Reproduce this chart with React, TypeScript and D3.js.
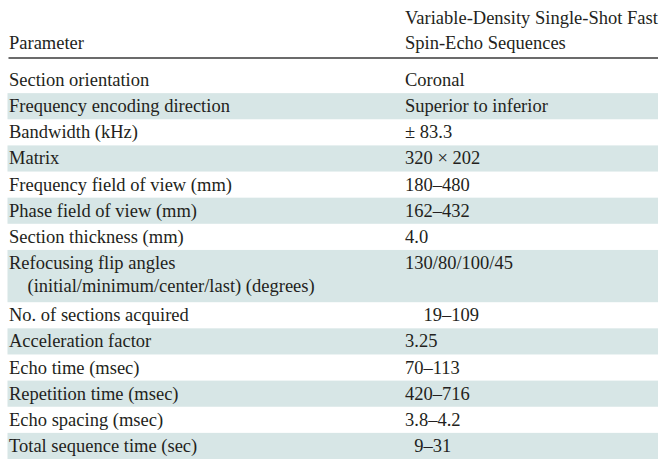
import React from "react";
import * as d3 from "d3";

const headerLeft = "Parameter";
const headerRight = ["Variable-Density Single-Shot Fast", "Spin-Echo Sequences"];

const parameters: string[][] = [
  ["Section orientation"],
  ["Frequency encoding direction"],
  ["Bandwidth (kHz)"],
  ["Matrix"],
  ["Frequency field of view (mm)"],
  ["Phase field of view (mm)"],
  ["Section thickness (mm)"],
  ["Refocusing flip angles", "\u2003(initial/minimum/center/last) (degrees)"],
  ["No. of sections acquired"],
  ["Acceleration factor"],
  ["Echo time (msec)"],
  ["Repetition time (msec)"],
  ["Echo spacing (msec)"],
  ["Total sequence time (sec)"],
];

const values: string[] = [
  "Coronal",
  "Superior to inferior",
  "\u00b1 83.3",
  "320 \u00d7 202",
  "180\u2013480",
  "162\u2013432",
  "4.0",
  "130/80/100/45",
  "\u2007\u200719\u2013109",
  "3.25",
  "70\u2013113",
  "420\u2013716",
  "3.8\u20134.2",
  "\u20079\u201331",
];

const W = 668;
const H = 475;

export default function App() {
  const units = parameters.map((p) => p.length);
  const starts = [0, ...Array.from(d3.cumsum(units))];
  const total = starts[starts.length - 1];
  const y = d3.scaleLinear().domain([0, total]).range([67, 459]);
  const x = d3.scaleLinear().domain([0, 1]).range([7.5, 658]);
  const col2 = 405;
  const font = "'Liberation Serif', 'Times New Roman', serif";
  const fs = 18.5;
  const color = "#231f20";
  const unitH = y(1) - y(0);

  return (
    <svg
      width={W}
      height={H}
      style={{ position: "absolute", left: 0, top: 0, background: "#fff" }}
      fontFamily={font}
      fontSize={fs}
      fill={color}
    >
      <rect x={0} y={0} width={W} height={H} fill="#fff" />
      <text x={9} y={49}>{headerLeft}</text>
      {headerRight.map((t, i) => (
        <text key={i} x={col2} y={24 + i * 25}>{t}</text>
      ))}
      <line x1={x(0) + 1} x2={x(1)} y1={58} y2={58} stroke="#3a3a3a" strokeWidth={1.6} />
      {parameters.map((lines, i) => {
        const top = y(starts[i]);
        const bottom = y(starts[i + 1]);
        return (
          <g key={i}>
            {i % 2 === 1 && (
              <rect x={x(0)} y={top} width={x(1) - x(0)} height={bottom - top} fill="#d7e6e6" />
            )}
            {lines.map((t, j) => (
              <text key={j} x={9} y={top + unitH / 2 + 6 + j * 23}>{t}</text>
            ))}
            <text x={col2} y={top + unitH / 2 + 6}>{values[i]}</text>
          </g>
        );
      })}
    </svg>
  );
}
